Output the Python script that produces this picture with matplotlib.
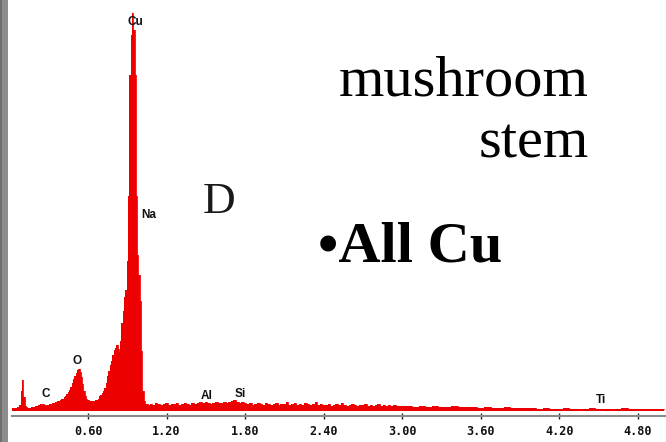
import numpy as np
import matplotlib
matplotlib.use("Agg")
import matplotlib.pyplot as plt
from matplotlib.patches import Rectangle

# ---------------- data ----------------
# low-energy channels: 0.02 .. 1.05 keV, 0.01 keV per channel
low_start, low_step = 0.02, 0.01
low_counts = [
    3, 3, 3, 3, 4, 4, 6, 20, 31, 14,
    5, 4, 3, 3, 3, 4, 4, 4, 5, 5,
    6, 6, 7, 6, 7, 6, 5, 6, 6, 7,
    7, 8, 8, 9, 9, 10, 10, 11, 12, 12,
    14, 15, 17, 19, 21, 24, 28, 32, 35, 38,
    41, 42, 39, 34, 27, 20, 15, 12, 11, 10,
    10, 10, 10, 10, 11, 11, 12, 15, 16, 18,
    20, 23, 28, 35, 40, 46, 50, 56, 61, 63,
    66, 62, 59, 70, 88, 100, 114, 121, 150, 215,
    336, 376, 398, 381, 336, 215, 156, 136, 110, 60,
    20, 10, 7, 7,
]
# mid channels: 1.06 .. 2.98 keV, 0.02 keV per channel
mid_start, mid_step = 1.06, 0.02
mid_counts = [
    6, 7, 6, 8, 7, 6, 7, 8, 6, 7, 7, 8, 6, 7, 8, 7, 6, 8,
    7, 8, 9, 8, 9, 8, 7, 8, 9, 8,
    8, 9, 8, 9, 10, 11, 9, 8, 9, 8,
    7, 8, 6, 7, 8, 7, 6, 8, 7, 6, 7, 8, 6, 7, 7, 9, 6, 7, 8, 6, 7, 6, 8, 7, 6, 7, 9, 6, 7, 6,
    6, 7, 5, 6, 7, 6, 8, 6, 5, 6, 7, 6, 5, 6, 6, 7, 5, 6, 5, 6, 7, 5, 6, 5, 6, 5, 6, 5, 5,
]
# high channels: 3.00 .. 5.00 keV, 0.05 keV per channel
high_start, high_step = 3.00, 0.05
high_counts = [
    5, 5, 4, 5, 4, 5, 4, 4, 5, 4, 4, 4, 3,
    4, 3, 3, 4, 3, 3, 3, 3,
    2, 3, 2, 2, 3, 2, 2, 2, 3, 2, 2, 2, 2, 3, 2, 2, 2, 2, 2, 2,
]

tick_values = [0.60, 1.20, 1.80, 2.40, 3.00, 3.60, 4.20, 4.80]
tick_labels = ["0.60", "1.20", "1.80", "2.40", "3.00", "3.60", "4.20", "4.80"]

element_names = ["C", "O", "Cu", "Na", "Al", "Si", "Ti"]
element_energy = [0.279, 0.519, 0.959, 1.063, 1.506, 1.761, 4.519]
element_height = [17, 50, 389, 196, 15, 17, 11]


def channels(start, step, counts):
    return np.round(start + step * np.arange(len(counts)), 3)


energy = np.concatenate([
    channels(low_start, low_step, low_counts),
    channels(mid_start, mid_step, mid_counts),
    channels(high_start, high_step, high_counts),
])
counts = np.array(low_counts + mid_counts + high_counts, dtype=float)

# ---------------- figure ----------------
W, H = 666, 442
fig = plt.figure(figsize=(W / 100, H / 100), dpi=100)
fig.patch.set_facecolor("white")

# grey strip at the left edge
fig.patches.append(Rectangle((0, 0), 8 / W, 1, transform=fig.transFigure,
                             facecolor="#8c8c8c", edgecolor="none", zorder=0))
fig.patches.append(Rectangle((0, 0), 2 / W, 1, transform=fig.transFigure,
                             facecolor="#6e6e6e", edgecolor="none", zorder=0))

ax_left, ax_bottom_px = 12, 416
ax = fig.add_axes([ax_left / W, (H - ax_bottom_px) / H, (W - ax_left) / W, ax_bottom_px / H])
ax.set_facecolor("none")

red = "#ec0000"
ax.fill_between(energy, counts, 0, step="mid", color=red, linewidth=0)
ax.step(energy, counts, where="mid", color=red, linewidth=0.6)

ax.set_xlim(0.019, 5.015)
ax.set_ylim(-5, 411)

for s in ("left", "right", "top"):
    ax.spines[s].set_visible(False)
ax.spines["bottom"].set_color("#8a8a8a")
ax.spines["bottom"].set_linewidth(1.5)
ax.set_yticks([])
ax.set_xticks(tick_values)
ax.set_xticklabels(tick_labels, fontfamily="DejaVu Sans Mono", fontweight="bold",
                   fontsize=8.5, color="#111111")
ax.tick_params(axis="x", direction="inout", length=5, width=1, color="#222222", pad=4)

for name, e, h in zip(element_names, element_energy, element_height):
    ax.text(e, h, name, ha="center", va="center", fontsize=8.5, fontweight="bold",
            fontfamily="Liberation Sans", color="#111111")

# ---------------- slide text ----------------
def fx(px):
    return px / W


def fy(py):
    return 1 - py / H


fig.text(fx(589), fy(95), "mushroom", ha="right", va="baseline",
         fontfamily="Liberation Serif", fontsize=42, color="black")
fig.text(fx(589), fy(157), "stem", ha="right", va="baseline",
         fontfamily="Liberation Serif", fontsize=42, color="black")
fig.text(fx(203), fy(213), "D", ha="left", va="baseline",
         fontfamily="Liberation Serif", fontsize=32.5, color="#1a1a1a")
fig.text(fx(318), fy(262), "\u2022All Cu", ha="left", va="baseline",
         fontfamily="Liberation Serif", fontweight="bold", fontsize=42, color="black")

fig.savefig("out.png", dpi=100, facecolor="white")
